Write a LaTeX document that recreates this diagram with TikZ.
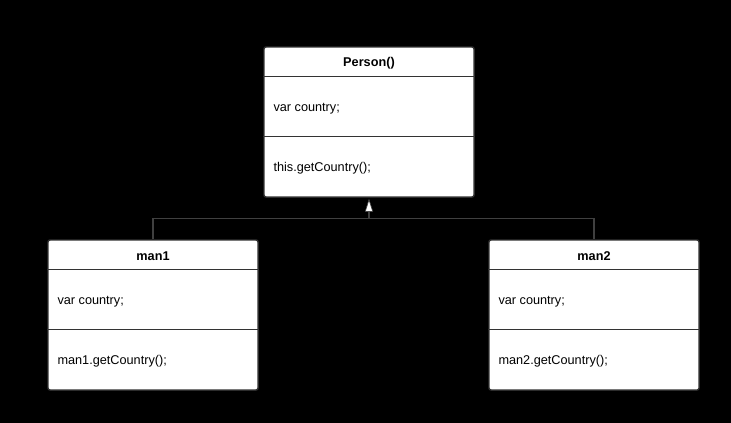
\documentclass[tikz,border=0pt]{standalone}
\usepackage{fontspec}
\setmainfont{Liberation Sans}
\usetikzlibrary{arrows.meta, positioning}
\definecolor{boxline}{HTML}{333333}
\definecolor{connline}{HTML}{404040}

\begin{document}
\begin{tikzpicture}[x=1pt, y=-1pt,
  classbox/.style={draw=boxline, fill=white, line width=1.4pt, rounded corners=2pt,
    minimum width=210pt, minimum height=150pt, inner sep=0pt},
  divider/.style={draw=boxline, line width=1.4pt},
  title/.style={font=\fontsize{12.7}{14}\selectfont\bfseries, inner sep=0pt},
  member/.style={font=\fontsize{12.7}{14}\selectfont, inner sep=0pt, anchor=west},
  conn/.style={draw=connline, line width=1.4pt}]
\fill[black] (0,0) rectangle (731,423);
\foreach \n/\x/\y/\t/\m in {person/369/122/Person()/this.getCountry();,
    man1/153/315/man1/man1.getCountry();, man2/594/315/man2/man2.getCountry();}{
  \node[classbox] (\n) at (\x,\y) {};
  \draw[divider] ([yshift=-30pt]\n.north west) -- ([yshift=-30pt]\n.north east);
  \draw[divider] ([yshift=-90pt]\n.north west) -- ([yshift=-90pt]\n.north east);
  \node[title] at ([yshift=-17pt]\n.north) {\t};
  \node[member] at ([xshift=10pt, yshift=-62pt]\n.north west) {var country;};
  \node[member] at ([xshift=10pt, yshift=-122pt]\n.north west) {\m};
}
\coordinate (join) at ([yshift=-21pt]person.south);
\draw[conn] (man1.north) |- (join) -| (man2.north);
\draw[conn, -{Triangle[open, fill=white, line width=0.6pt, length=13pt, width=8pt]}]
  (join) -- ([yshift=-1pt]person.south);
\end{tikzpicture}
\end{document}
